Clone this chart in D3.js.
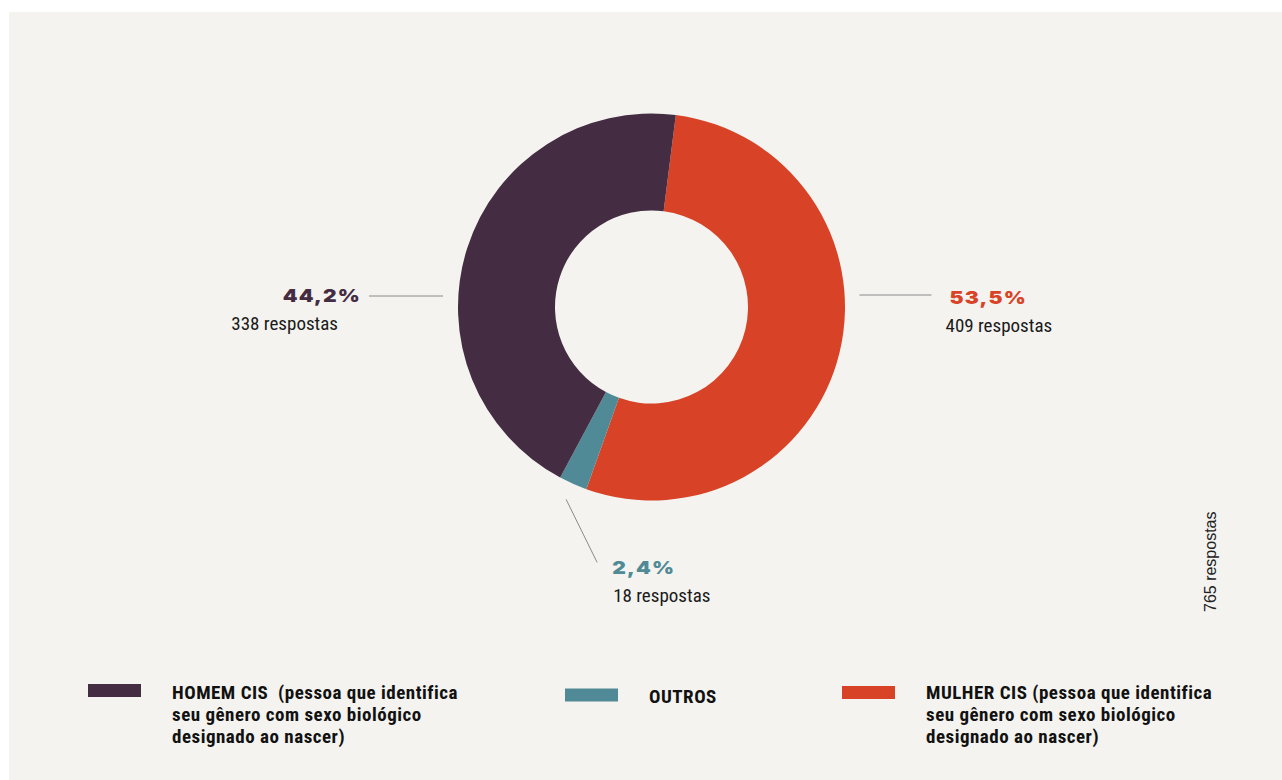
<!DOCTYPE html>
<html lang="pt-BR">
<head>
<meta charset="utf-8">
<script src="https://cdn.jsdelivr.net/npm/d3@7"></script>
<style>
  html, body { margin: 0; padding: 0; background: #ffffff; }
  svg { display: block; }
  .pct { font-family: Inter, "Open Sans", sans-serif; font-weight: 900; font-size: 18px; letter-spacing: 1px; }
  .resp { font-family: "Liberation Sans Narrow", "Roboto Condensed", "DejaVu Sans Condensed", sans-serif; font-stretch: condensed; font-size: 19px; fill: #1a1a1a; }
  .leg { font-family: "Liberation Sans Narrow", "Roboto Condensed", "DejaVu Sans Condensed", sans-serif; font-stretch: condensed; font-weight: 700; font-size: 19px; letter-spacing: 0.5px; fill: #111; }
  .total { font-family: "Liberation Sans", Arial, sans-serif; font-size: 16px; fill: #222; }
</style>
</head>
<body>
<svg id="chart" width="1282" height="780"></svg>
<script>
// Respondents by gender identity
const categories = ["MULHER CIS", "OUTROS", "HOMEM CIS"];
const respostas = [409, 18, 338];
const percentLabels = ["53,5%", "2,4%", "44,2%"];
const respostaLabels = ["409 respostas", "18 respostas", "338 respostas"];
const seriesColors = ["#d84328", "#508a96", "#442d43"];
const totalLabel = "765 respostas";

// Legend entries (left to right)
const legendKeys = ["HOMEM CIS", "OUTROS", "MULHER CIS"];
const legendLines = [
  ["HOMEM CIS  (pessoa que identifica", "seu gênero com sexo biológico", "designado ao nascer)"],
  ["OUTROS"],
  ["MULHER CIS (pessoa que identifica", "seu gênero com sexo biológico", "designado ao nascer)"]
];

const W = 1282, H = 780;
const svg = d3.select("#chart");

// paper panel
svg.append("rect").attr("x", 9).attr("y", 12).attr("width", W - 9).attr("height", H - 12).attr("fill", "#f4f3ef");

const cx = 651.5, cy = 307;
const outerR = 193.5, innerR = 96.5;
const start = 0.126;

const data = categories.map((c, i) => ({ key: c, n: respostas[i], pct: percentLabels[i], resp: respostaLabels[i], color: seriesColors[i] }));

const pie = d3.pie().sort(null).value(d => d.n).startAngle(start).endAngle(start + 2 * Math.PI);
const arcs = pie(data);
const arc = d3.arc().innerRadius(innerR).outerRadius(outerR);

const g = svg.append("g").attr("transform", `translate(${cx},${cy})`);
g.selectAll("path.slice").data(arcs).join("path")
  .attr("class", "slice")
  .attr("d", arc)
  .attr("fill", d => d.data.color);

// Annotations: leader line + percent (wide, extended look) + count
const ann = g.append("g");
const lineColor = "#8a8a8a";
const pctText = (x, y, anchor, color, txt) =>
  ann.append("text").attr("class", "pct")
    .attr("transform", `translate(${x},${y}) scale(1.17,1)`)
    .attr("text-anchor", anchor).attr("fill", color).text(txt);

arcs.forEach(a => {
  const d = a.data;
  const mid = (a.startAngle + a.endAngle) / 2;
  if (d.key === "HOMEM CIS") {
    const y = -11;
    const x1 = -outerR - 15, x0 = x1 - 74;
    ann.append("line").attr("x1", x0).attr("x2", x1).attr("y1", y).attr("y2", y).attr("stroke", lineColor).attr("stroke-width", 1);
    pctText(x0 - 8, y + 6, "end", d.color, d.pct);
    ann.append("text").attr("class", "resp").attr("x", x0 - 31).attr("y", y + 34).attr("text-anchor", "end").text(d.resp);
  } else if (d.key === "MULHER CIS") {
    const y = -12;
    const x0 = outerR + 14.5, x1 = x0 + 72;
    ann.append("line").attr("x1", x0).attr("x2", x1).attr("y1", y).attr("y2", y).attr("stroke", lineColor).attr("stroke-width", 1);
    pctText(x1 + 18, y + 9, "start", d.color, d.pct);
    ann.append("text").attr("class", "resp").attr("x", x1 + 14).attr("y", y + 37).text(d.resp);
  } else {
    const r0 = outerR + 17;
    const p0 = [Math.sin(mid) * r0, -Math.cos(mid) * r0];
    const p1 = [p0[0] + 31, p0[1] + 63];
    ann.append("line").attr("x1", p0[0]).attr("y1", p0[1]).attr("x2", p1[0]).attr("y2", p1[1]).attr("stroke", lineColor).attr("stroke-width", 1);
    pctText(p1[0] + 15, p1[1] + 12, "start", d.color, d.pct);
    ann.append("text").attr("class", "resp").attr("x", p1[0] + 16).attr("y", p1[1] + 40).text(d.resp);
  }
});

// Total, rotated along the right margin
svg.append("text").attr("class", "total")
  .attr("transform", "translate(1216,612) rotate(-90)")
  .text(totalLabel);

// Legend
const colorOf = k => seriesColors[categories.indexOf(k)];
const legendX = d3.scaleOrdinal().domain(legendKeys).range([88, 565, 842]);
const swatchY = d3.scaleOrdinal().domain(legendKeys).range([684, 688.5, 686]);
const legend = svg.append("g");
legendKeys.forEach((k, i) => {
  const x = legendX(k);
  legend.append("rect").attr("x", x).attr("y", swatchY(k)).attr("width", 53).attr("height", 13).attr("fill", colorOf(k));
  const t = legend.append("text").attr("class", "leg").attr("x", x + 84).attr("y", 699);
  legendLines[i].forEach((line, j) => {
    t.append("tspan").attr("x", x + 84).attr("dy", j === 0 ? (i === 1 ? 4 : 0) : 22).attr("xml:space", "preserve").text(line);
  });
});
</script>
</body>
</html>
